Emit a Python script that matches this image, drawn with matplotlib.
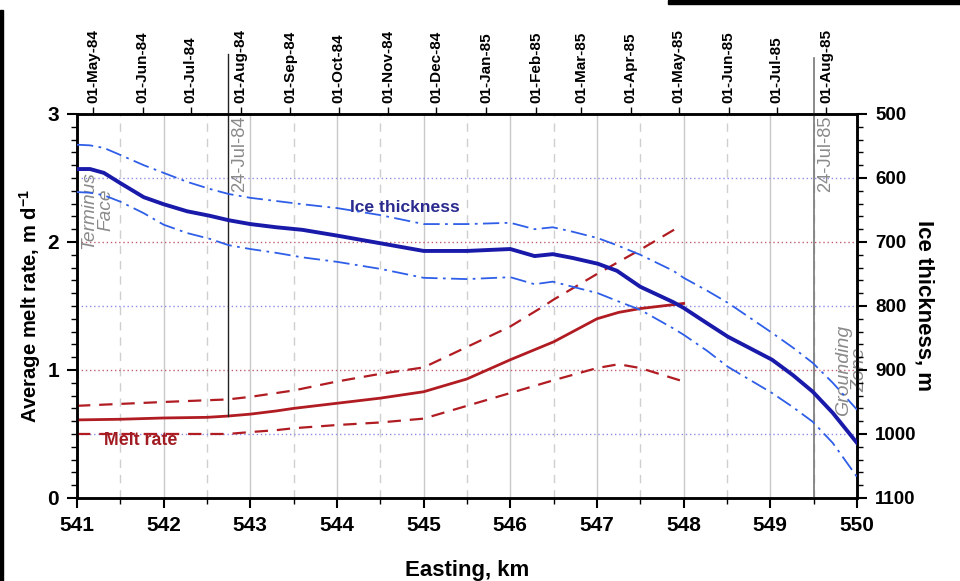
import matplotlib.pyplot as plt
import matplotlib.dates as mdates
import matplotlib.transforms as mtransforms
from matplotlib.patches import Rectangle
from matplotlib.ticker import MultipleLocator
import numpy as np
import datetime as dt

plt.rcParams['font.family'] = ['Liberation Sans', 'DejaVu Sans']
plt.rcParams['mathtext.fontset'] = 'custom'
plt.rcParams['mathtext.rm'] = 'Liberation Sans:bold'
plt.rcParams['mathtext.default'] = 'rm'

# ice thickness (right axis, m)
easting_ice = [541.0, 541.15, 541.31, 541.5, 541.77, 542.0, 542.27, 542.53, 542.75, 543.0,
               543.3, 543.6, 544.0, 544.5, 545.0, 545.5, 546.0, 546.28, 546.49, 546.72,
               547.01, 547.23, 547.5, 547.88, 548.0, 548.27, 548.51, 549.02, 549.26, 549.49,
               549.72, 550.0]
ice_mid = [586, 586, 592, 608, 630, 641, 652, 659, 666, 672,
           677, 681, 690, 702, 714, 714, 711, 722, 719, 725,
           734, 745, 770, 794, 803, 827, 848, 884, 908, 934,
           967, 1014]
ice_hi = [548, 549, 553, 564, 580, 592, 606, 617, 625, 631,
          636, 641, 647, 658, 672, 672, 670, 680, 677, 684,
          694, 705, 720, 745, 756, 776, 795, 842, 865, 889,
          920, 962]
ice_lo = [622, 623, 627, 637, 655, 673, 686, 695, 705, 711,
          717, 724, 731, 742, 756, 758, 755, 766, 762, 770,
          780, 792, 806, 835, 845, 870, 895, 936, 958, 981,
          1014, 1067]

# melt rate (left axis, m/d)
easting_melt = [541.0, 541.5, 542.0, 542.5, 542.74, 543.0, 543.3, 543.5, 544.0, 544.5,
                545.0, 545.5, 546.0, 546.5, 547.0, 547.25, 547.5, 548.0]
melt_mid = [0.61, 0.615, 0.625, 0.63, 0.64, 0.655, 0.68, 0.70, 0.74, 0.78,
            0.83, 0.93, 1.08, 1.22, 1.40, 1.45, 1.48, 1.52]
melt_lo = [0.50, 0.50, 0.50, 0.50, 0.50, 0.515, 0.53, 0.545, 0.57, 0.59,
           0.62, 0.72, 0.82, 0.92, 1.015, 1.045, 1.015, 0.91]
easting_melt_hi = [541.0, 542.0, 542.74, 543.0, 543.5, 544.0, 544.5, 545.0, 545.5,
                   546.0, 546.34, 546.5, 547.0, 547.5, 547.9]
melt_hi = [0.72, 0.75, 0.77, 0.79, 0.84, 0.91, 0.97, 1.02, 1.18,
           1.34, 1.48, 1.55, 1.75, 1.94, 2.10]

# date anchors: easting of the two 24-Jul lines
date_anchor = [dt.date(1984, 7, 24), dt.date(1985, 7, 24)]
easting_anchor = [542.74, 549.5]

navy = '#1a1aaa'
blue = '#2f5fe8'
red = '#b01c22'
grey = '#8a8a8a'

fig = plt.figure(figsize=(9.6, 5.81), dpi=100)
ax = fig.add_axes([0.0802, 0.1429, 0.8125, 0.6609])
ax.set_xlim(541, 550)
ax.set_ylim(0, 3)

# grid
for e in np.arange(541.5, 550, 0.5):
    if e % 1 == 0:
        ax.axvline(e, color='#c8c8c8', lw=1.0, zorder=0)
    else:
        ax.axvline(e, color='#cfcfcf', lw=1.0, ls=(0, (6, 5)), zorder=0)
for v in [1, 2]:
    ax.axhline(v, color='#c06070', lw=1.0, ls=(0, (1, 2)), zorder=0)
for v in [0.5, 1.5, 2.5]:
    ax.axhline(v, color='#8c8ce8', lw=1.0, ls=(0, (1, 2)), zorder=0)

# melt rate
ax.plot(easting_melt, melt_mid, color=red, lw=2.0, zorder=3)
ax.plot(easting_melt, melt_lo, color=red, lw=1.6, ls=(0, (6, 4)), zorder=3)
ax.plot(easting_melt_hi, melt_hi, color=red, lw=1.6, ls=(0, (6, 4)), zorder=3)

# ice thickness on right axis
ax2 = ax.twinx()
ax2.set_ylim(1100, 500)
ax2.plot(easting_ice, ice_mid, color=navy, lw=2.8, zorder=3)
ax2.plot(easting_ice, ice_hi, color=blue, lw=1.3, ls=(0, (9, 3, 1.5, 3)), zorder=3)
ax2.plot(easting_ice, ice_lo, color=blue, lw=1.3, ls=(0, (9, 3, 1.5, 3)), zorder=3)

# vertical date lines
trans = mtransforms.blended_transform_factory(ax.transData, ax.transAxes)
ax.plot([easting_anchor[0]] * 2, [np.interp(easting_anchor[0], easting_melt, melt_mid) / 3, 1.155],
        color='#222222', lw=1.0, transform=trans, clip_on=False, zorder=4)
ax.plot([easting_anchor[1]] * 2, [0, 1.145], color='#777777', lw=1.2,
        transform=trans, clip_on=False, zorder=4)
for e, d in zip(easting_anchor, date_anchor):
    ax.text(e + 0.04, 2.985, d.strftime('%d-%b-%y'), rotation=90, ha='left', va='top',
            color=grey, fontsize=13.2)

# labels inside
ax.text(544.78, 2.27, 'Ice thickness', color='#2b2b8f', fontsize=12.6, fontweight='bold',
        ha='center', va='center')
ax.text(541.73, 0.45, 'Melt rate', color='#a01c22', fontsize=12.8, fontweight='bold',
        ha='center', va='center')
ax.text(541.23, 2.25, 'Terminus\nFace', rotation=90, style='italic', color=grey,
        fontsize=13.8, ha='center', va='center', multialignment='center', linespacing=1.0)
ax.text(549.94, 1.0, 'Grounding\nZone', rotation=90, style='italic', color=grey,
        fontsize=14, ha='center', va='center', multialignment='center', linespacing=1.0)

# axes ticks
ax.xaxis.set_major_locator(MultipleLocator(1))
ax.xaxis.set_minor_locator(MultipleLocator(0.5))
ax.yaxis.set_major_locator(MultipleLocator(1))
ax.yaxis.set_minor_locator(MultipleLocator(0.1))
ax2.yaxis.set_major_locator(MultipleLocator(100))
ax2.yaxis.set_minor_locator(MultipleLocator(20))
ax.tick_params(which='major', length=7, width=1.5, labelsize=15, pad=6)
ax.tick_params(which='minor', length=4, width=1.0)
ax2.tick_params(which='major', length=7, width=1.5, labelsize=13.5, pad=6)
ax2.tick_params(which='minor', length=4, width=1.0)
for lab in ax.get_xticklabels() + ax.get_yticklabels() + ax2.get_yticklabels():
    lab.set_fontweight('bold')
for s in ax.spines.values():
    s.set_linewidth(1.8)
for s in ax2.spines.values():
    s.set_linewidth(1.8)

ax.set_xlabel('Easting, km', fontsize=16, fontweight='bold', labelpad=18)
ax.set_ylabel('Average melt rate, m d$^{-1}$', fontsize=14.5, fontweight='bold', labelpad=3)
ax2.set_ylabel('Ice thickness, m', fontsize=16, fontweight='bold', rotation=270, labelpad=13)

# top date axis
d0 = mdates.date2num(date_anchor[0])
d1 = mdates.date2num(date_anchor[1])
slope = (d1 - d0) / (easting_anchor[1] - easting_anchor[0])
ax3 = ax.twiny()
ax3.set_xlim(d0 + (541 - easting_anchor[0]) * slope, d0 + (550 - easting_anchor[0]) * slope)
ax3.xaxis.set_major_locator(mdates.MonthLocator(bymonthday=1))
ax3.xaxis.set_major_formatter(mdates.DateFormatter('%d-%b-%y'))
ax3.tick_params(axis='x', length=5, width=1.0, labelsize=11, rotation=90, pad=3)
for lab in ax3.get_xticklabels():
    lab.set_fontweight('bold')
for s in ax3.spines.values():
    s.set_visible(False)

# scan borders
fig.patches.append(Rectangle((668 / 960, 1 - 4 / 581), 292 / 960, 4 / 581,
                             transform=fig.transFigure, color='black'))
fig.patches.append(Rectangle((0, 0), 3 / 960, 1 - 10 / 581,
                             transform=fig.transFigure, color='black'))

fig.savefig('out.png', dpi=100)
